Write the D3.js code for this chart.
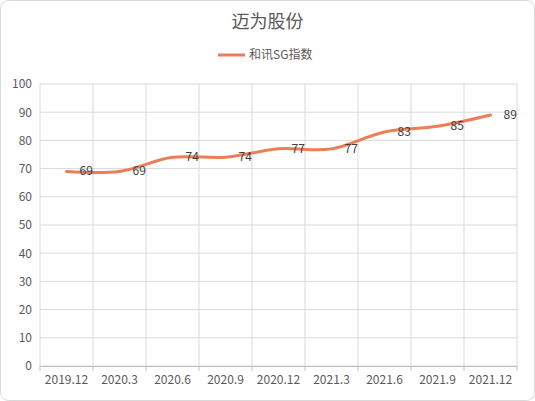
<!DOCTYPE html>
<html><head><meta charset="utf-8">
<script src="https://cdn.jsdelivr.net/npm/d3@7"></script>
<style>body{margin:0;background:#fff;font-family:"Noto Sans CJK SC","Microsoft YaHei",sans-serif;}</style>
</head><body><div id="chart"></div>
<script>
const categories = ["2019.12","2020.3","2020.6","2020.9","2020.12","2021.3","2021.6","2021.9","2021.12"];
const values = [69,69,74,74,77,77,83,85,89];
const yTicks = [0,10,20,30,40,50,60,70,80,90,100];

const w = 535, h = 401;
const padL = 40, padR = 517, padT = 84, padB = 366;
const svg = d3.select("#chart").append("svg").attr("width", w).attr("height", h);
svg.append("rect").attr("x",0.5).attr("y",0.5).attr("width",w-1).attr("height",h-1)
  .attr("rx",8).attr("fill","#fff").attr("stroke","#d9d9d9");

const x = d3.scaleBand().domain(categories).range([padL, padR]);
const y = d3.scaleLinear().domain([0,100]).range([padB, padT]);

// horizontal grid
svg.append("g").selectAll("line").data(yTicks).enter().append("line")
  .attr("x1", padL).attr("x2", padR).attr("y1", d => y(d)).attr("y2", d => y(d))
  .attr("stroke", "#d9d9d9");
// vertical grid
svg.append("g").selectAll("line").data(categories).enter().append("line")
  .attr("x1", d => x(d)).attr("x2", d => x(d)).attr("y1", padT).attr("y2", padB)
  .attr("stroke", "#d9d9d9");
svg.append("line").attr("x1", padR).attr("x2", padR).attr("y1", padT).attr("y2", padB).attr("stroke","#d9d9d9");

// x axis
const xAxis = svg.append("g").attr("transform", "translate(0," + padB + ")")
  .call(d3.axisBottom(x).tickSize(0).tickPadding(9));
xAxis.select(".domain").attr("stroke", "#bfbfbf");
xAxis.selectAll("text").attr("fill","#595959").style("font-size","12px").style("font-family","'Noto Sans CJK SC',sans-serif");
xAxis.selectAll(".tk").data(categories.concat([null])).enter().append("line")
  .attr("x1", d => d ? x(d) : padR).attr("x2", d => d ? x(d) : padR)
  .attr("y1",0).attr("y2",5).attr("stroke","#bfbfbf");

// y axis
const yAxis = svg.append("g").attr("transform", "translate(" + padL + ",0)")
  .call(d3.axisLeft(y).tickValues(yTicks).tickSize(0).tickPadding(8));
yAxis.select(".domain").remove();
yAxis.selectAll("text").attr("fill","#595959").style("font-size","12px").style("font-family","'Noto Sans CJK SC',sans-serif");

// line
const line = d3.line().x((d,i) => x(categories[i]) + x.bandwidth()/2).y(d => y(d)).curve(d3.curveCatmullRom.alpha(0.5));
svg.append("path").datum(values).attr("d", line).attr("fill","none")
  .attr("stroke","#ed7d55").attr("stroke-width",3).attr("stroke-linecap","round");

// labels
svg.append("g").selectAll("text").data(values).enter().append("text")
  .attr("x", (d,i) => x(categories[i]) + x.bandwidth()/2 + 13)
  .attr("y", d => y(d) + 4)
  .attr("text-anchor","start").attr("fill","#404040").style("font-size","12px")
  .text(d => d);

// title
svg.append("text").attr("x", w/2).attr("y", 28).attr("text-anchor","middle")
  .attr("fill","#595959").style("font-size","18px").text("迈为股份");
// legend
svg.append("line").attr("x1",218).attr("x2",245).attr("y1",55).attr("y2",55)
  .attr("stroke","#ed7d55").attr("stroke-width",3);
svg.append("text").attr("x",249).attr("y",59).attr("fill","#595959").style("font-size","12px").text("和讯SG指数");
</script></body></html>
